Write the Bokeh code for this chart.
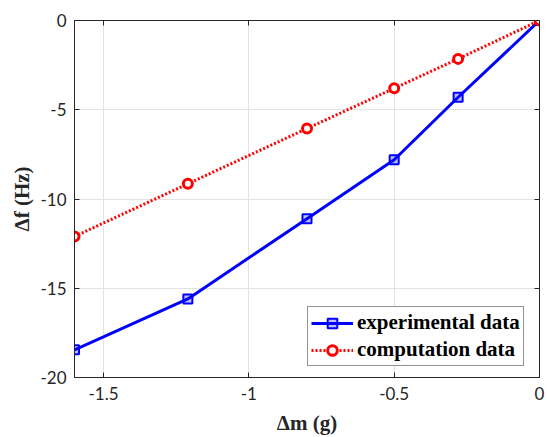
from bokeh.plotting import figure
from bokeh.models import Range1d, FixedTicker, LinearAxis, Legend, LegendItem
from bokeh.embed import file_html
from bokeh.resources import INLINE

# data
dm_exp = [-1.6, -1.21, -0.8, -0.5, -0.28, 0.0]
df_exp = [-18.45, -15.6, -11.1, -7.8, -4.3, 0.0]
dm_comp = [-1.6, -1.21, -0.8, -0.5, -0.28, 0.0]
df_comp = [-12.1, -9.15, -6.05, -3.8, -2.15, 0.0]
x_ticks = [-1.5, -1.0, -0.5, 0.0]
x_tick_labels = ["-1.5", "-1", "-0.5", "0"]
y_ticks = [-20, -15, -10, -5, 0]
y_tick_labels = ["-20", "-15", "-10", "-5", "0"]
series_names = ["experimental data", "computation data"]

AX = "#262626"
TICK_FONT = "Lato"
LABEL_FONT = "Liberation Serif"

p = figure(width=547, height=437, x_range=Range1d(-1.6, 0), y_range=Range1d(-20, 0),
           output_backend="svg", toolbar_location=None,
           min_border_left=74, min_border_right=8, min_border_top=20, min_border_bottom=59)
p.background_fill_color = "white"
p.border_fill_color = "white"
p.outline_line_color = AX
p.outline_line_width = 1

xax = p.xaxis[0]
yax = p.yaxis[0]

def style_axis(ax):
    ax.axis_line_color = AX
    ax.major_tick_line_color = AX
    ax.minor_tick_line_color = AX
    ax.major_tick_in = 5
    ax.major_tick_out = 0
    ax.minor_tick_in = 0
    ax.minor_tick_out = 0
    ax.major_label_text_color = AX
    ax.major_label_text_font = TICK_FONT
    ax.major_label_text_font_size = "17px"

for ax, ticks, labels in ((xax, x_ticks, x_tick_labels), (yax, y_ticks, y_tick_labels)):
    style_axis(ax)
    ax.ticker = FixedTicker(ticks=ticks)
    ax.major_label_overrides = {t: l for t, l in zip(ticks, labels)}
xax.major_label_standoff = 9
yax.major_label_standoff = 8

xax.axis_label = "Δm (g)"
yax.axis_label = "Δf (Hz)"
for ax in (xax, yax):
    ax.axis_label_text_font = LABEL_FONT
    ax.axis_label_text_font_style = "bold"
    ax.axis_label_text_font_size = "21px"
    ax.axis_label_text_color = AX
xax.axis_label_standoff = 8
yax.axis_label_standoff = 3

# mirrored tick marks on top and right (as minor ticks, so no labels)
top = LinearAxis(ticker=FixedTicker(ticks=[], minor_ticks=x_ticks))
right = LinearAxis(ticker=FixedTicker(ticks=[], minor_ticks=y_ticks))
for ax in (top, right):
    style_axis(ax)
    ax.minor_tick_in = 5
    ax.minor_tick_out = 0
p.add_layout(top, "above")
p.add_layout(right, "right")

p.xgrid.ticker = FixedTicker(ticks=x_ticks)
p.ygrid.ticker = FixedTicker(ticks=y_ticks)
p.grid.grid_line_color = "#e3e3e3"
p.grid.grid_line_width = 1

BLUE = "#0000ff"
RED = "#ff0000"

l1 = p.line(dm_exp, df_exp, line_color=BLUE, line_width=3)
m1 = p.scatter(dm_exp, df_exp, marker="square", size=9, line_color=BLUE, line_width=2,
               fill_color=BLUE, fill_alpha=0.25)
l2 = p.line(dm_comp, df_comp, line_color=RED, line_width=3, line_dash="2 2")
m2 = p.scatter(dm_comp, df_comp, marker="circle", size=9, line_color=RED, line_width=3,
               fill_color="white")

legend = Legend(items=[LegendItem(label=series_names[0], renderers=[l1, m1]),
                       LegendItem(label=series_names[1], renderers=[l2, m2])],
                location=(233, 11))
legend.label_text_font = LABEL_FONT
legend.label_text_font_style = "bold"
legend.label_text_font_size = "21px"
legend.label_text_color = "black"
legend.border_line_color = AX
legend.border_line_width = 1
legend.glyph_width = 42
legend.glyph_height = 24
legend.label_height = 24
legend.spacing = 2
legend.padding = 3
legend.margin = 0
legend.label_standoff = 4
legend.background_fill_color = "white"
legend.background_fill_alpha = 1
p.add_layout(legend, "center")

open("out.html", "w").write(file_html(p, INLINE))
